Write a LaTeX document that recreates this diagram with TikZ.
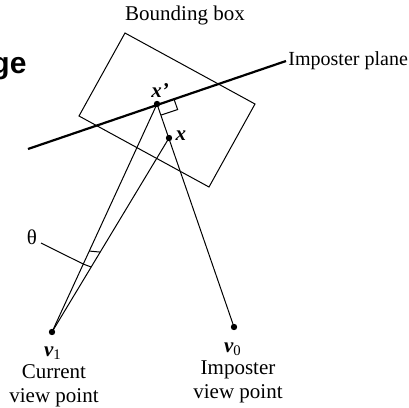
\documentclass[tikz,border=0pt]{standalone}
\usepackage{fontspec}
\setmainfont{Liberation Serif}
\newfontfamily\slidefont{Liberation Sans}
\usetikzlibrary{calc}
\begin{document}
\begin{tikzpicture}[x=0.5pt, y=-0.5pt, line width=0.5pt, every node/.style={font=\fontsize{10.5}{12}\selectfont},
    dot/.style={circle, fill=black, inner sep=0pt, minimum size=3.2pt},
    bx/.style={font=\fontsize{10.5}{12}\selectfont\bfseries\itshape}]
	\useasboundingbox (0,0) rectangle (409,408);
	% 1. slide title remnant
	\node[anchor=base east, inner sep=0pt, font=\fontsize{15}{18}\selectfont\slidefont\bfseries] (title) at (27,73) {ge};

	% 2. bounding box and imposter plane
	\draw (125,33) -- (255,104) -- (209,187) -- (79,116) -- cycle;
	\node (bblabel) at (185,15) {Bounding box};
	\coordinate (pl) at (28,149);
	\coordinate (pr) at (286,61);
	\draw[line width=1.1pt] (pl) -- (pr);
	\node[anchor=west, inner sep=0pt, font=\fontsize{10}{12}\selectfont] (plabel) at (288,61) {Imposter plane};

	% 3. points
	\node[dot] (xp) at (157,104) {};
	\node[dot] (x) at (169,138) {};
	\node[dot] (v1) at (52,332) {};
	\node[dot] (v0) at (234,327) {};
	\node[bx] at (160,91) {x'};
	\node[bx] at (181,136) {x};
	\node (v1lab) at (53,353) {{\bfseries\itshape v}\textsubscript{1}};
	\node[align=center, inner sep=0pt] (v1txt) at (54,386) {Current\\view point};
	\node (v0lab) at (233,349) {{\bfseries\itshape v}\textsubscript{0}};
	\node[align=center, inner sep=0pt] (v0txt) at (238,382) {Imposter\\view point};

	% 4. rays
	\draw (v1.center) -- (xp.center);
	\draw (v1.center) -- (x.center);
	\draw (xp.center) -- (v0.center);

	% right angle at x'
	\coordinate (ra) at ($(xp.center)!0.05!(v0.center)$);
	\coordinate (rc) at ($(xp.center)!0.13!(pr)$);
	\draw (ra) -- ($(ra)+(rc)-(xp.center)$) -- (rc);

	% 5. angle theta between the two rays
	\coordinate (t1) at ($(v1.center)!0.355!(xp.center)$);
	\coordinate (t2) at ($(v1.center)!0.412!(x.center)$);
	\coordinate (t3) at ($(v1.center)!0.298!(xp.center)$);
	\coordinate (t4) at ($(v1.center)!0.335!(x.center)$);
	\draw (t1) -- (t2);
	\draw (t3) -- (t4);
	\node (theta) at (32,237) {θ};
	\draw (41,243) -- (t3);
\end{tikzpicture}
\end{document}
